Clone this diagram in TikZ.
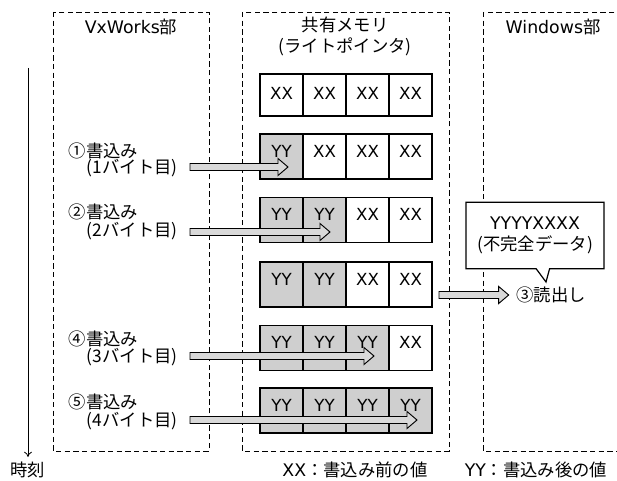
\documentclass[tikz,border=0pt]{standalone}
\usepackage{fontspec}
\setmainfont{Noto Sans CJK JP}
\newfontfamily\lat{DejaVu Sans}
\usetikzlibrary{calc,arrows.meta,shapes.callouts}

\begin{document}
\begin{tikzpicture}[x=0.75pt,y=-0.75pt,line width=0.8pt,color=black,
	every node/.style={font=\fontsize{13}{15.5}\selectfont},
	part/.style={dash pattern=on 4pt off 2.5pt,line width=0.7pt},
	cell/.style={draw,line width=0.9pt,minimum width=32.25pt,minimum height=33.75pt,inner sep=0pt,
		text height=9.1pt,text depth=8pt,font=\fontsize{12.5}{15}\lat},
	top/.style={cell,minimum height=31.5pt,text depth=2.5pt},
	yy/.style={cell,fill=gray!38},
	wr/.style={draw,fill=gray!30,line width=0.7pt,line join=miter,to path={
		($(\tikztostart)+(0,-3.5)$) -- ($(\tikztotarget)+(-10,-3.5)$) -- ($(\tikztotarget)+(-10,-8.5)$)
		-- (\tikztotarget) -- ($(\tikztotarget)+(-10,8.5)$) -- ($(\tikztotarget)+(-10,3.5)$)
		-- ($(\tikztostart)+(0,3.5)$) -- cycle}}]
			\useasboundingbox (0,0) rectangle (617,481);
			\clip (0,0) rectangle (617,481);
			% three parts
			\draw[part] (53,12) rectangle (209,451);
			\draw[part] (242,12) rectangle (449,451);
			\draw[part] (483,12) rectangle (660,451);
			\node (vx) at (131,27){{\lat VxWorks}部};
			\node (mem) at (345,25){共有メモリ};
			\node (wp) at (345,47){(ライトポインタ)};
			\node (win) at (553,27){{\lat Windows}部};
			% time axis
			\coordinate (t0) at (28,68);
			\node (tk) at (28,470){時刻};
			\draw[-{To[length=4pt,width=6pt]},line width=0.6pt] (t0) -- (tk.north);
			% memory rows
			\node[top] (r1c1) at (281.5,95){XX};
			\node[top] (r1c2) at (324.5,95){XX};
			\node[top] (r1c3) at (367.5,95){XX};
			\node[top] (r1c4) at (410.5,95){XX};
			\node[yy] (r2c1) at (281.5,156.5){YY};
			\node[cell] (r2c2) at (324.5,156.5){XX};
			\node[cell] (r2c3) at (367.5,156.5){XX};
			\node[cell] (r2c4) at (410.5,156.5){XX};
			\node[yy] (r3c1) at (281.5,220){YY};
			\node[yy] (r3c2) at (324.5,220){YY};
			\node[cell] (r3c3) at (367.5,220){XX};
			\node[cell] (r3c4) at (410.5,220){XX};
			\node[yy] (r4c1) at (281.5,284.5){YY};
			\node[yy] (r4c2) at (324.5,284.5){YY};
			\node[cell] (r4c3) at (367.5,284.5){XX};
			\node[cell] (r4c4) at (410.5,284.5){XX};
			\node[yy] (r5c1) at (281.5,348){YY};
			\node[yy] (r5c2) at (324.5,348){YY};
			\node[yy] (r5c3) at (367.5,348){YY};
			\node[cell] (r5c4) at (410.5,348){XX};
			\node[yy] (r6c1) at (281.5,410.5){YY};
			\node[yy] (r6c2) at (324.5,410.5){YY};
			\node[yy] (r6c3) at (367.5,410.5){YY};
			\node[yy] (r6c4) at (410.5,410.5){YY};
			% writes
			\node[anchor=west] (w1) at (64,151){①書込み};
			\node[anchor=west] (w1b) at (82,168){(1バイト目)};
			\node[anchor=west] (w2) at (64,212){②書込み};
			\node[anchor=west] (w2b) at (82,231){(2バイト目)};
			\node[anchor=west] (w4) at (64,339){④書込み};
			\node[anchor=west] (w4b) at (82,357){(3バイト目)};
			\node[anchor=west] (w5) at (64,402){⑤書込み};
			\node[anchor=west] (w5b) at (82,421){(4バイト目)};
			\coordinate (a1s) at (190,167);
			\coordinate (a1e) at (288,167);
			\coordinate (a2s) at (190,232);
			\coordinate (a2e) at (330,232);
			\coordinate (a4s) at (190,356);
			\coordinate (a4e) at (374,356);
			\coordinate (a5s) at (190,420);
			\coordinate (a5e) at (417,420);
			\draw[wr] (a1s) to (a1e);
			\draw[wr] (a2s) to (a2e);
			\draw[wr] (a4s) to (a4e);
			\draw[wr] (a5s) to (a5e);
			% read
			\node (rd) at (551,295){③読出し};
			\coordinate (rds) at (439,295);
			\draw[wr] (rds) to ([xshift=-2pt]rd.west);
			\node[draw,fill=white,line width=0.9pt,rectangle callout,align=center,
				minimum width=103.5pt,minimum height=50pt,inner sep=2pt,
				callout absolute pointer={(546,282)},callout pointer width=10pt]
				(bad) at (535,235.5){{\lat YYYYXXXX}\\(不完全データ)};
			% legend
			\node (lx) at (355,470){{\lat XX}：書込み前の値};
			\node (ly) at (536,470){{\lat YY}：書込み後の値};
		\end{tikzpicture}
\end{document}
